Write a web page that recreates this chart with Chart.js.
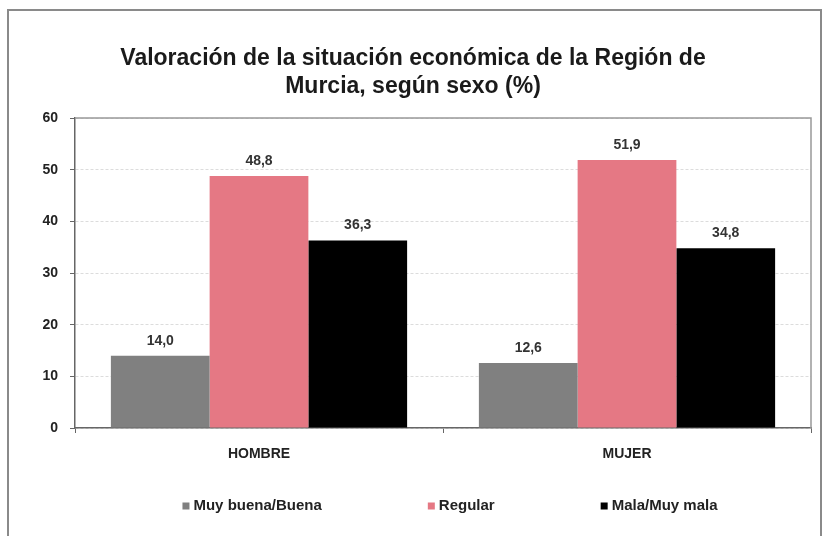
<!DOCTYPE html>
<html>
<head>
<meta charset="utf-8">
<script src="https://cdn.jsdelivr.net/npm/chart.js@4"></script>
<style>
  body { margin: 0; background: #fff; }
  #wrap { position: relative; width: 825px; height: 536px; }
  #frame { position: absolute; left: 7px; top: 9px; width: 811px; height: 540px; border: 2px solid #8a8a8a; }
  canvas { position: absolute; left: 0; top: 0; }
</style>
</head>
<body>
<div id="wrap">
  <div id="frame"></div>
  <canvas id="myChart" width="825" height="536"></canvas>
</div>
<script>
// Datos
const categorias = ['HOMBRE', 'MUJER'];
const series = ['Muy buena/Buena', 'Regular', 'Mala/Muy mala'];
const muyBuena = [14.0, 12.6];
const regular = [48.8, 51.9];
const malaMuyMala = [36.3, 34.8];
const colores = ['#808080', '#e57884', '#000000'];
const tituloLineas = ['Valoración de la situación económica de la Región de', 'Murcia, según sexo (%)'];

const fuente = '"Liberation Sans", Arial, sans-serif';

// Etiquetas de valor encima de cada barra (coma decimal)
const etiquetasBarras = {
  id: 'etiquetasBarras',
  afterDatasetsDraw(chart) {
    const ctx = chart.ctx;
    ctx.save();
    ctx.font = 'bold 14px ' + fuente;
    ctx.fillStyle = '#333';
    ctx.textAlign = 'center';
    ctx.textBaseline = 'bottom';
    chart.data.datasets.forEach((ds, i) => {
      chart.getDatasetMeta(i).data.forEach((bar, j) => {
        ctx.fillText(ds.data[j].toFixed(1).replace('.', ','), bar.x, bar.y - 8);
      });
    });
    ctx.restore();
  }
};

// Marco del área de trazado (arriba y derecha)
const bordeArea = {
  id: 'bordeArea',
  beforeDatasetsDraw(chart) {
    const {ctx, chartArea: a} = chart;
    ctx.save();
    ctx.strokeStyle = '#999';
    ctx.lineWidth = 1.5;
    ctx.beginPath();
    ctx.moveTo(a.left, a.top);
    ctx.lineTo(a.right, a.top);
    ctx.lineTo(a.right, a.bottom);
    ctx.stroke();
    ctx.restore();
  }
};

// Leyenda con mucha separación entre elementos (como en el original)
const leyendaAncha = {
  id: 'leyendaAncha',
  afterDraw(chart) {
    const {ctx, chartArea: a} = chart;
    const caja = 7, hueco = 4, separacion = 106;
    ctx.save();
    ctx.font = 'bold 15px ' + fuente;
    ctx.textBaseline = 'middle';
    const items = chart.data.datasets.map(ds => ({
      texto: ds.label,
      color: ds.backgroundColor,
      ancho: caja + hueco + ctx.measureText(ds.label).width
    }));
    const total = items.reduce((s, it) => s + it.ancho, 0) + separacion * (items.length - 1);
    let x = (a.left + a.right) / 2 - total / 2 + 7;
    const y = a.bottom + 78;
    items.forEach(it => {
      ctx.fillStyle = it.color;
      ctx.fillRect(x, y - caja / 2, caja, caja);
      ctx.fillStyle = '#222';
      ctx.fillText(it.texto, x + caja + hueco, y);
      x += it.ancho + separacion;
    });
    ctx.restore();
  }
};

new Chart(document.getElementById('myChart'), {
  type: 'bar',
  data: {
    labels: categorias,
    datasets: [
      { label: series[0], data: muyBuena, backgroundColor: colores[0] },
      { label: series[1], data: regular, backgroundColor: colores[1] },
      { label: series[2], data: malaMuyMala, backgroundColor: colores[2] }
    ]
  },
  options: {
    responsive: false,
    animation: false,
    layout: { padding: { top: 21, left: 15, right: 14, bottom: 63 } },
    datasets: { bar: { categoryPercentage: 0.805, barPercentage: 1 } },
    scales: {
      x: {
        grid: { drawOnChartArea: false, drawTicks: true, tickLength: 5, tickColor: '#666', offset: true },
        border: { color: '#666', width: 1.5 },
        ticks: { color: '#222', padding: 13, font: { family: fuente, size: 14, weight: 'bold' } },
        afterFit: (s) => { s.height = 45; }
      },
      y: {
        min: 0,
        max: 60,
        ticks: { stepSize: 10, color: '#222', padding: 12, font: { family: fuente, size: 14, weight: 'bold' } },
        grid: { color: '#dcdcdc', tickColor: '#666', tickLength: 5 },
        border: { color: '#666', width: 1.5, dash: [3, 2] },
        afterFit: (s) => { s.width = 60; }
      }
    },
    plugins: {
      title: {
        display: true,
        text: tituloLineas,
        color: '#1a1a1a',
        font: { family: fuente, size: 23, weight: 'bold', lineHeight: 1.22 },
        padding: { top: 24, bottom: 17 }
      },
      legend: { display: false },
      tooltip: { enabled: false }
    }
  },
  plugins: [etiquetasBarras, bordeArea, leyendaAncha]
});
</script>
</body>
</html>
